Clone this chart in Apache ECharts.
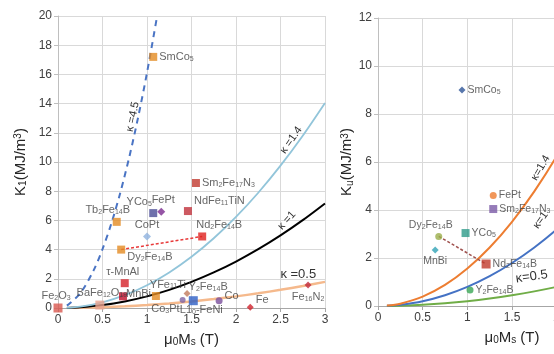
<!DOCTYPE html>
<html><head><meta charset="utf-8">
<script src="https://cdn.jsdelivr.net/npm/echarts@6/dist/echarts.min.js"></script>
<style>html,body{margin:0;padding:0;background:#fff;overflow:hidden;width:554px;height:354px}#c{width:680px;height:354px}</style>
</head><body><div id="c"></div>
<script>
// ---------- data ----------
const xTicks = [0, 0.5, 1, 1.5, 2, 2.5, 3];
const curveX = [0.1, 0.25, 0.5, 0.75, 1.0, 1.25, 1.5, 1.75, 2.0, 2.25, 2.5, 2.75, 3.0];
const kappa14Y = [0.016, 0.097, 0.390, 0.877, 1.560, 2.437, 3.509, 4.777, 6.239, 7.896, 9.748, 11.795, 14.037];
const kappa10Y = [0.008, 0.050, 0.199, 0.448, 0.796, 1.243, 1.791, 2.437, 3.183, 4.029, 4.974, 6.018, 7.162];
const kappa05Y = [0.002, 0.012, 0.050, 0.112, 0.199, 0.311, 0.448, 0.609, 0.796, 1.007, 1.243, 1.504, 1.790];
const kappa45X = [0.1, 0.25, 0.4, 0.5, 0.6, 0.7, 0.8, 0.9, 1.0, 1.114];
const kappa45Y = [0.161, 1.007, 2.578, 4.029, 5.801, 7.896, 10.313, 13.053, 16.114, 20.0];

const leftNames = ['SmCo_5','Sm_2Fe_17N_3','NdFe_11TiN','YCo_5','FePt','CoPt','Tb_2Fe_14B','Dy_2Fe_14B','Nd_2Fe_14B','τ-MnAl','MnBi','BaFe_12O_19','Fe_2O_3','YFe_11Ti','Y_2Fe_14B','Co_3Pt','L1_0-FeNi','Co','Fe','Fe_16N_2'];
const leftX = [1.07, 1.55, 1.46, 1.07, 1.16, 1.00, 0.66, 0.71, 1.62, 0.75, 0.73, 0.47, 0.00, 1.10, 1.45, 1.40, 1.52, 1.81, 2.16, 2.81];
const leftY = [17.2, 8.56, 6.64, 6.50, 6.60, 4.90, 5.90, 4.00, 4.90, 1.70, 0.80, 0.20, 0.00, 0.82, 1.00, 0.55, 0.50, 0.50, 0.05, 1.58];

const rightNames = ['SmCo_5','FePt','Sm_2Fe_17N_3','YCo_5','Dy_2Fe_14B','MnBi','Nd_2Fe_14B','Y_2Fe_14B'];
const rightX = [0.94, 1.29, 1.29, 0.98, 0.68, 0.64, 1.21, 1.03];
const rightY = [9.00, 4.60, 4.04, 3.04, 2.90, 2.33, 1.75, 0.67];

// ---------- styles ----------
const leftStyle = {
  'SmCo_5':      {sym:'rect', c:'#e38b22', sz:8, pos:'right', off:[0,0]},
  'Sm_2Fe_17N_3':{sym:'rect', c:'#c0392f', sz:8, pos:'right', off:[0,0]},
  'NdFe_11TiN':  {sym:'rect', c:'#c0303a', sz:8, pos:'right', off:[0,-10]},
  'YCo_5':       {sym:'rect', c:'#4a4c96', sz:8, pos:'top', off:[-14,0]},
  'FePt':        {sym:'diamond', c:'#7a2a8e', sz:8, pos:'top', off:[2,0]},
  'CoPt':        {sym:'diamond', c:'#8fb2de', sz:8, pos:'top', off:[0,0]},
  'Tb_2Fe_14B':  {sym:'rect', c:'#e38b22', sz:8, pos:'top', off:[-9,0]},
  'Dy_2Fe_14B':  {sym:'rect', c:'#e38b22', sz:8, pos:'right', off:[0,7]},
  'Nd_2Fe_14B':  {sym:'rect', c:'#e0201e', sz:8, pos:'top', off:[17,0]},
  'τ-MnAl':      {sym:'rect', c:'#d42028', sz:8, pos:'top', off:[-2,0]},
  'MnBi':        {sym:'rect', c:'#c0102a', sz:8, pos:'right', off:[-3,-2]},
  'BaFe_12O_19': {sym:'rect', c:'#eaa38f', sz:9, pos:'top', off:[2,0]},
  'Fe_2O_3':     {sym:'rect', c:'#d9574f', sz:9, pos:'top', off:[-2,0]},
  'YFe_11Ti':    {sym:'rect', c:'#e38b22', sz:8, pos:'top', off:[12,0]},
  'Y_2Fe_14B':   {sym:'diamond', c:'#c27a5c', sz:7, pos:'right', off:[-4,-6]},
  'Co_3Pt':      {sym:'circle', c:'#8064a2', sz:6, pos:'left', off:[2,9]},
  'L1_0-FeNi':   {sym:'rect', c:'#2e5fc6', sz:9, pos:'bottom', off:[8,-3]},
  'Co':          {sym:'circle', c:'#7a4f9c', sz:7, pos:'right', off:[0,-5]},
  'Fe':          {sym:'diamond', c:'#d0202a', sz:7, pos:'right', off:[0,-7]},
  'Fe_16N_2':    {sym:'diamond', c:'#c0283a', sz:7, pos:'bottom', off:[0,1]}
};
const rightStyle = {
  'SmCo_5':      {sym:'diamond', c:'#2e5597', sz:7, pos:'right', off:[0,0]},
  'FePt':        {sym:'circle', c:'#ed7d31', sz:7, pos:'right', off:[0,0]},
  'Sm_2Fe_17N_3':{sym:'rect', c:'#7b5aa6', sz:8, pos:'right', off:[0,0]},
  'YCo_5':       {sym:'rect', c:'#2e9b8a', sz:8, pos:'right', off:[0,0]},
  'Dy_2Fe_14B':  {sym:'circle', c:'#9aae4a', sz:7, pos:'top', off:[-8,0]},
  'MnBi':        {sym:'diamond', c:'#2fa3b5', sz:7, pos:'bottom', off:[0,0]},
  'Nd_2Fe_14B':  {sym:'rect', c:'#c0392b', sz:9, pos:'right', off:[0,0]},
  'Y_2Fe_14B':   {sym:'circle', c:'#3aa655', sz:7, pos:'right', off:[0,0]}
};

const FONT = '"Liberation Sans", Arial, "DejaVu Sans", sans-serif';
function toRich(s){ return s.replace(/_([0-9a-z]+)/g, '{s|$1}').replace(/\^([0-9]+)/g, '{p|$1}'); }

function pointSeries(names, xs, ys, styles, xi, fs){
  return names.map((n, i) => {
    const st = styles[n];
    return {
      type: 'scatter', xAxisIndex: xi, yAxisIndex: xi, clip: false, z: 5,
      symbol: st.sym, symbolSize: st.sz,
      itemStyle: {color: st.c},
      data: [[xs[i], ys[i]]],
      label: {show: true, position: st.pos, offset: st.off, distance: 2,
        formatter: toRich(n), color: '#404040', fontSize: fs, fontFamily: FONT,
        rich: {s: {fontSize: Math.round(fs*0.68), verticalAlign: 'bottom', fontFamily: FONT, color: '#404040'}}}
    };
  });
}
function zip(xs, ys){ return xs.map((x, i) => [x, ys[i]]); }
function curve(xs, ys, xi, color, width, type, lbl){
  const s = {type:'line', xAxisIndex: xi, yAxisIndex: xi, data: zip(xs, ys), smooth: 0.3,
    showSymbol: false, symbol: 'none', z: 3, lineStyle: {color: color, width: width, type: type}};
  if (lbl) {
    s.markPoint = {symbol: 'circle', symbolSize: 0, silent: true, data: [{coord: lbl.at,
      label: {show: true, position: 'inside', formatter: lbl.text, rotate: lbl.rot,
        fontSize: lbl.fs || 11, color: '#333', fontFamily: FONT}}]};
  }
  return s;
}

const axisNameStyle = (fs) => ({fontSize: fs, color: '#262626', fontFamily: FONT,
  rich: {s: {fontSize: Math.round(fs*0.66), verticalAlign: 'bottom', fontFamily: FONT, color:'#262626'},
         p: {fontSize: Math.round(fs*0.66), verticalAlign: 'top', fontFamily: FONT, color:'#262626'}}});

function xAxis(gi){
  return {gridIndex: gi, type: 'value', min: 0, max: 3, interval: 0.5,
    name: 'μ{s|0}M{s|s} (T)', nameLocation: 'middle', nameGap: 24, nameTextStyle: axisNameStyle(15),
    axisLine: {lineStyle: {color: '#a6a6a6'}}, axisTick: {show: true, length: 4, lineStyle:{color:'#a6a6a6'}},
    axisLabel: {color: '#404040', fontSize: 12, fontFamily: FONT, margin: 6, showMaxLabel: true, showMinLabel: true,
      formatter: v => xTicks.indexOf(v) >= 0 ? String(v) : ''},
    splitLine: {show: true, lineStyle: {color: '#d9d9d9'}}};
}
function yAxis(gi, max, name, gap){
  return {gridIndex: gi, type: 'value', min: 0, max: max, interval: 2,
    name: name, nameLocation: 'middle', nameGap: gap, nameTextStyle: axisNameStyle(15),
    axisLine: {show: true, lineStyle: {color: '#bfbfbf'}}, axisTick: {show: true, length: 4, lineStyle:{color:'#bfbfbf'}},
    axisLabel: {color: '#404040', fontSize: 12, fontFamily: FONT, margin: 6},
    splitLine: {show: true, lineStyle: {color: '#d9d9d9'}}};
}

const chart = echarts.init(document.getElementById('c'), null, {renderer: 'canvas'});
const option = {
  animation: false,
  backgroundColor: '#fff',
  grid: [{left: 58, top: 16, width: 267, height: 292},
         {left: 378, top: 18, width: 268, height: 288}],
  xAxis: [xAxis(0), xAxis(1)],
  yAxis: [yAxis(0, 20, 'K{s|1}(MJ/m{p|3})', 30), yAxis(1, 12, 'K{s|u}(MJ/m{p|3})', 22)],
  series: [
    curve(curveX, kappa05Y, 0, '#f5b98c', 2.5, 'solid', {at:[2.70, 2.33], text:'κ =0.5', rot:0, fs:13}),
    curve(curveX, kappa10Y, 0, '#000000', 2, 'solid', {at:[2.57, 6.0], text:'κ =1', rot:48}),
    curve(curveX, kappa14Y, 0, '#92c5da', 1.8, 'solid', {at:[2.62, 11.5], text:'κ =1.4', rot:55}),
    curve(kappa45X, kappa45Y, 0, '#4a74c4', 2, [6, 5], {at:[0.84, 13.1], text:'κ =4.5', rot:78}),
    {type:'line', xAxisIndex:0, yAxisIndex:0, data: [[leftX[7], leftY[7]], [leftX[8], leftY[8]]],
      showSymbol:false, symbol:'none', z:4, lineStyle:{color:'#e83a3a', width:1.5, type:[3,2]}},
    curve(curveX, kappa05Y, 1, '#70ad47', 2, 'solid', {at:[1.72, 1.22], text:'κ=0.5', rot:8, fs:13}),
    curve(curveX, kappa10Y, 1, '#4472c4', 2, 'solid', {at:[1.82, 3.58], text:'κ=1', rot:55}),
    curve(curveX, kappa14Y, 1, '#ed7d31', 2, 'solid', {at:[1.82, 5.75], text:'κ=1.4', rot:60}),
    {type:'line', xAxisIndex:1, yAxisIndex:1, data: [[rightX[4], rightY[4]], [rightX[6], rightY[6]]],
      showSymbol:false, symbol:'none', z:4, lineStyle:{color:'#a0524f', width:1.5, type:[3,2]}},
    ...pointSeries(leftNames, leftX, leftY, leftStyle, 0, 11),
    ...pointSeries(rightNames, rightX, rightY, rightStyle, 1, 10.5)
  ]
};
chart.setOption(option);
</script></body></html>
